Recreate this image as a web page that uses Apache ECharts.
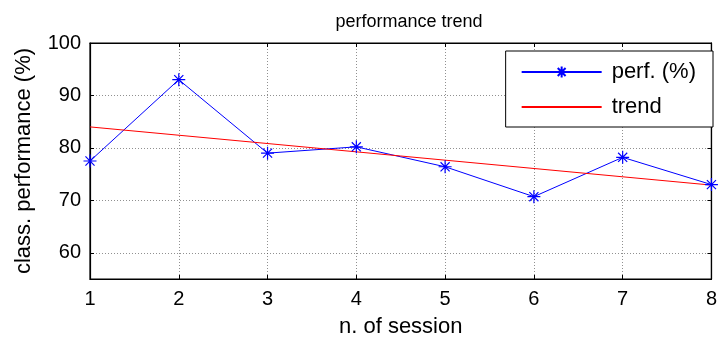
<!DOCTYPE html>
<html><head><meta charset="utf-8">
<script src="https://cdn.jsdelivr.net/npm/echarts@6/dist/echarts.min.js"></script>
<style>html,body{margin:0;padding:0;background:#fff}#c{width:720px;height:343px}</style>
</head><body><div id="c"></div>
<script>
const sessions = [1, 2, 3, 4, 5, 6, 7, 8];
const perf = [77.5, 93.0, 79.0, 80.2, 76.4, 70.7, 78.2, 73.0];
const trendX = [1, 8];
const trendY = [84.0, 72.9];
const yTicks = [60, 70, 80, 90, 100];

const FONT = '"Liberation Sans", Arial, sans-serif';
const star = 'path://M0 5 L10 5 M5 0 L5 10 M1.5 1.5 L8.5 8.5 M1.5 8.5 L8.5 1.5';
const dashMark = 'path://M0 0 L0 0 M0 5 L10 5 M10 10 L10 10';
const chart = echarts.init(document.getElementById('c'), null, {renderer: 'canvas'});
const dotted = {show: true, lineStyle: {color: '#444', width: 0.6, type: [1, 2]}};
const tickStyle = {show: true, inside: true, length: 4, lineStyle: {color: '#000'}};
chart.setOption({
  animation: false,
  backgroundColor: '#fff',
  title: {text: 'performance trend', left: 404, top: 8, textAlign: 'center',
    textStyle: {fontFamily: FONT, fontSize: 18, fontWeight: 'normal', color: '#000'}},
  grid: {left: 90, right: 2, top: 43, bottom: 62, show: true, borderColor: '#000', borderWidth: 1.2, backgroundColor: '#fff'},
  legend: {
    right: 7, top: 51, orient: 'vertical', itemWidth: 80, itemHeight: 14, itemGap: 13,
    padding: [10, 17, 9, 15], borderColor: '#000', borderWidth: 1, backgroundColor: '#fff',
    textStyle: {fontFamily: FONT, fontSize: 22, color: '#000', padding: [0, 0, 0, 5]},
    data: ['perf. (%)', 'trend']
  },
  xAxis: [{
    type: 'value', min: 1, max: 8, interval: 1,
    name: 'n. of session', nameLocation: 'middle', nameGap: 37,
    nameTextStyle: {fontFamily: FONT, fontSize: 22, color: '#000'},
    axisLine: {show: true, lineStyle: {color: '#000', width: 1.2}},
    axisTick: tickStyle,
    axisLabel: {fontFamily: FONT, fontSize: 20, color: '#000', margin: 10},
    splitLine: dotted
  }, {
    type: 'value', min: 1, max: 8, interval: 1, position: 'top',
    axisLine: {show: true, lineStyle: {color: '#000', width: 1.2}},
    axisTick: tickStyle,
    axisLabel: {show: false}, splitLine: {show: false}
  }],
  yAxis: [{
    type: 'value', min: 55, max: 100,
    name: 'class. performance (%)', nameLocation: 'middle', nameGap: 55,
    nameTextStyle: {fontFamily: FONT, fontSize: 22, color: '#000'},
    axisLine: {show: true, lineStyle: {color: '#000', width: 1.2}},
    axisTick: Object.assign({customValues: yTicks}, tickStyle),
    axisLabel: {fontFamily: FONT, fontSize: 20, color: '#000', margin: 9, customValues: yTicks},
    splitLine: dotted
  }, {
    type: 'value', min: 55, max: 100, position: 'right',
    axisLine: {show: true, lineStyle: {color: '#000', width: 1.2}},
    axisTick: Object.assign({customValues: yTicks}, tickStyle),
    axisLabel: {show: false, customValues: yTicks}, splitLine: {show: false}
  }],
  series: [{
    name: 'perf. (%)', type: 'line',
    data: sessions.map((s, i) => [s, perf[i]]),
    symbol: star, symbolSize: 13,
    lineStyle: {color: '#0000ff', width: 1},
    itemStyle: {color: 'none', borderColor: '#0000ff', borderWidth: 1.2},
    color: '#0000ff'
  }, {
    name: 'trend', type: 'line',
    data: trendX.map((x, i) => [x, trendY[i]]),
    symbol: dashMark, showSymbol: false,
    itemStyle: {color: 'none', borderColor: '#ff0000', borderWidth: 1},
    lineStyle: {color: '#ff0000', width: 1}, color: '#ff0000'
  }]
});
</script></body></html>
